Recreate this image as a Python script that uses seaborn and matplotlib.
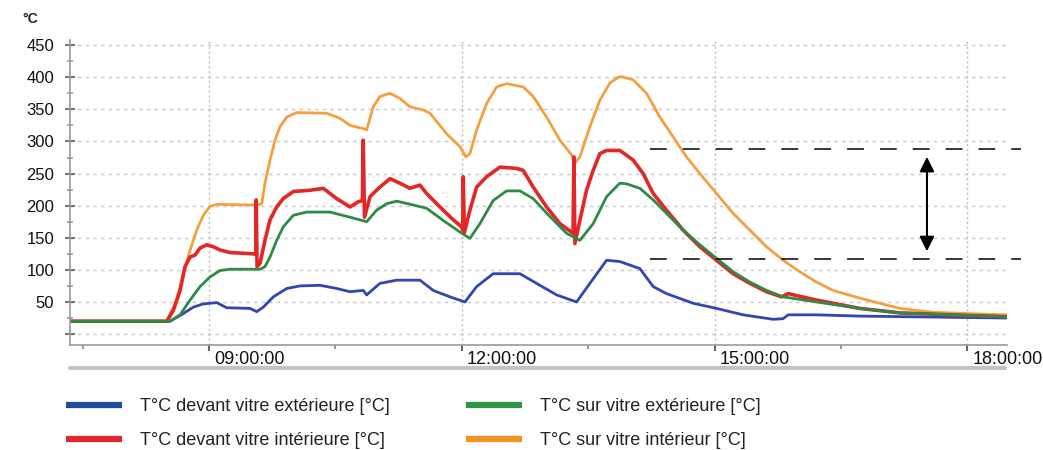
import numpy as np
import pandas as pd
import matplotlib
matplotlib.use("Agg")
import matplotlib.pyplot as plt
import matplotlib.transforms as mtransforms
from matplotlib.lines import Line2D
from matplotlib.ticker import FixedLocator, FuncFormatter, MultipleLocator
import seaborn as sns

# ---------------- data (time in decimal hours, temperature in °C) ----------------
series_names = [
    "T°C devant vitre extérieure [°C]",
    "T°C devant vitre intérieure [°C]",
    "T°C sur vitre extérieure [°C]",
    "T°C sur vitre intérieur [°C]",
]
series_colors = ["#3346b0", "#e32626", "#2e8b47", "#f5a040"]
legend_colors = ["#1f4c9c", "#e3262b", "#2e9447", "#f39322"]

blue_t = [7.35, 8.537, 8.695, 8.814, 8.932, 9.091, 9.210, 9.486, 9.566, 9.644, 9.763,
          9.922, 10.079, 10.317, 10.515, 10.673, 10.830, 10.871, 11.028, 11.227, 11.503,
          11.661, 11.859, 12.037, 12.176, 12.372, 12.689, 12.887, 13.125, 13.362, 13.520,
          13.718, 13.875, 14.113, 14.271, 14.429, 14.745, 15.022, 15.338, 15.695, 15.813,
          15.873, 16.209, 16.722, 18.466]
blue_v = [20, 20, 32, 42, 47, 49, 41, 40, 35, 42, 58,
          71, 75, 76, 71, 66, 68, 61, 79, 84, 84,
          68, 58, 50, 74, 94, 94, 79, 61, 50, 79,
          115, 113, 102, 74, 63, 48, 40, 30, 23, 24,
          30, 30, 28, 25]

red_t = [7.35, 8.498, 8.577, 8.656, 8.715, 8.775, 8.834, 8.893, 8.973, 9.051, 9.130,
         9.249, 9.526, 9.555, 9.560, 9.570, 9.605, 9.664, 9.724, 9.803, 9.881,
         10.000, 10.198, 10.356, 10.515, 10.673, 10.771, 10.820, 10.830, 10.845, 10.910,
         11.028, 11.147, 11.266, 11.384, 11.503, 11.582, 11.740, 11.898, 11.997, 12.010,
         12.017, 12.030, 12.096, 12.176, 12.294, 12.452, 12.650, 12.728, 12.847, 13.006,
         13.164, 13.320, 13.330, 13.342, 13.401, 13.480, 13.559, 13.638, 13.718, 13.875,
         14.033, 14.152, 14.271, 14.429, 14.626, 14.825, 15.022, 15.220, 15.418, 15.616,
         15.794, 15.873, 16.209, 16.722, 17.197, 17.992, 18.466]
red_v = [20, 20, 37, 68, 105, 120, 123, 134, 139, 136, 131,
         127, 125, 124, 209, 105, 110, 146, 178, 198, 211,
         222, 224, 227, 211, 198, 206, 208, 302, 182, 214,
         229, 242, 235, 227, 232, 219, 198, 178, 167, 162,
         245, 158, 193, 229, 245, 260, 258, 255, 229, 198,
         172, 157, 276, 141, 177, 224, 255, 281, 286, 286,
         271, 250, 219, 193, 162, 136, 115, 94, 79, 66,
         58, 63, 53, 40, 33, 29, 27]

green_t = [7.35, 8.537, 8.656, 8.775, 8.893, 9.012, 9.130, 9.249, 9.605, 9.664, 9.724,
           9.803, 9.881, 10.000, 10.159, 10.435, 10.673, 10.871, 10.989, 11.108, 11.227,
           11.424, 11.582, 11.779, 11.977, 12.096, 12.215, 12.372, 12.531, 12.689, 12.847,
           13.045, 13.243, 13.401, 13.559, 13.718, 13.875, 13.955, 14.113, 14.271, 14.429,
           14.626, 14.825, 15.022, 15.220, 15.418, 15.616, 15.813, 16.209, 16.722, 17.197,
           17.992, 18.466]
green_v = [20, 20, 30, 53, 74, 89, 99, 101, 101, 105, 120,
           146, 167, 185, 190, 190, 182, 175, 193, 203, 207,
           201, 196, 177, 159, 149, 172, 208, 223, 223, 211,
           183, 157, 146, 172, 214, 235, 234, 227, 209, 188,
           162, 139, 118, 97, 81, 68, 58, 50, 40, 33,
           29, 27]

orange_t = [7.35, 8.498, 8.617, 8.695, 8.775, 8.854, 8.932, 9.012, 9.091, 9.566, 9.625,
            9.664, 9.724, 9.783, 9.842, 9.922, 10.040, 10.396, 10.554, 10.673, 10.830,
            10.871, 10.949, 11.028, 11.147, 11.266, 11.384, 11.542, 11.622, 11.819, 11.977,
            12.049, 12.096, 12.176, 12.294, 12.413, 12.531, 12.728, 12.847, 13.006, 13.164,
            13.302, 13.342, 13.401, 13.520, 13.638, 13.757, 13.856, 13.895, 14.033, 14.192,
            14.350, 14.508, 14.667, 14.825, 15.022, 15.220, 15.418, 15.616, 15.813, 16.011,
            16.209, 16.406, 16.722, 17.197, 17.588, 17.992, 18.466]
orange_v = [20, 20, 53, 94, 131, 162, 185, 199, 202, 201, 203,
            235, 271, 302, 323, 338, 345, 344, 336, 325, 320,
            318, 354, 370, 375, 367, 354, 349, 344, 312, 292,
            276, 281, 318, 359, 385, 390, 385, 370, 338, 302,
            279, 266, 276, 323, 364, 391, 400, 401, 396, 375,
            338, 307, 276, 250, 219, 188, 162, 136, 115, 97,
            81, 68, 56, 40, 34, 32, 30]

x_ticks = [9, 12, 15, 18]
x_minor = [7.5, 10.5, 13.5, 16.5]
y_ticks = [0, 50, 100, 150, 200, 250, 300, 350, 400, 450]
y_labels = ["", "50", "100", "150", "200", "250", "300", "350", "400", "450"]

band_levels = [288, 117]
band_span = [14.23, 18.64]
arrow_x = 17.52
arrow_ends = [129, 276]

# ---------------- figure ----------------
sns.set_theme(style="white")
plt.rcParams["font.family"] = ["Liberation Sans", "DejaVu Sans"]

fig = plt.figure(figsize=(10.43, 4.50), dpi=100)
ax = fig.add_axes([70 / 1043, 1 - 345 / 450, (1007 - 70) / 1043, (345 - 40) / 450])

all_t = [blue_t, red_t, green_t, orange_t]
all_v = [blue_v, red_v, green_v, orange_v]
widths = [2.0, 2.6, 2.0, 2.0]
order = [0, 3, 1, 2]
for i in order:
    df = pd.DataFrame({"time": all_t[i], "temp": all_v[i]})
    sns.lineplot(data=df, x="time", y="temp", ax=ax, color=series_colors[i],
                 linewidth=widths[i], estimator=None, sort=False, legend=False)

ax.set_xlim(7.35, 18.47)
ax.set_ylim(-17, 458)
ax.set_xlabel("")
ax.set_ylabel("")

# grids
for y in y_ticks:
    ax.axhline(y, color="#c9c9c9", lw=1.0, ls=(0, (2.5, 3)), zorder=0)
for x in x_ticks:
    ax.axvline(x, color="#bdbdbd", lw=1.0, ls=(0, (1.5, 2)), zorder=0)

# spines
for s in ["top", "right"]:
    ax.spines[s].set_visible(False)
for s in ["left", "bottom"]:
    ax.spines[s].set_color("#9a9a9a")
    ax.spines[s].set_linewidth(1.2)

# y ticks
ax.yaxis.set_major_locator(FixedLocator(y_ticks))
ax.set_yticklabels(y_labels)
ax.yaxis.set_minor_locator(MultipleLocator(25))
ax.tick_params(axis="y", which="major", direction="inout", length=7, width=1.5,
               color="#777777", labelsize=12, labelcolor="#111111", pad=8, left=True)
ax.tick_params(axis="y", which="minor", direction="inout", length=5, width=1.2,
               color="#999999", left=True)

# x ticks
ax.xaxis.set_major_locator(FixedLocator(x_ticks))
ax.xaxis.set_minor_locator(FixedLocator(x_minor))
ax.xaxis.set_major_formatter(FuncFormatter(lambda h, p: f"{int(round(h)):02d}:00:00"))
ax.tick_params(axis="x", which="major", direction="out", length=4, width=1.5,
               color="#666666", labelsize=13, labelcolor="#111111", pad=0, bottom=True)
ax.tick_params(axis="x", which="minor", direction="out", length=3, width=1.2,
               color="#888888", bottom=True)
offset = mtransforms.ScaledTranslation(5 / 100, 0, fig.dpi_scale_trans)
for lab in ax.get_xticklabels():
    lab.set_ha("left")
    lab.set_transform(lab.get_transform() + offset)
    lab.set_bbox(dict(facecolor="white", edgecolor="none", pad=1.5))
    lab.set_clip_on(False)

# dashed band + double arrow
for lvl in band_levels:
    ax.plot(band_span, [lvl, lvl], color="black", lw=1.1, dashes=(11, 10.5),
            clip_on=False, zorder=5)
ax.annotate("", xy=(arrow_x, arrow_ends[0]), xytext=(arrow_x, arrow_ends[1]),
            arrowprops=dict(arrowstyle="<|-|>", color="black", lw=1.5,
                            mutation_scale=22, shrinkA=0, shrinkB=0), zorder=6)

# unit label
fig.text(22 / 1043, 1 - 19 / 450, "°C", fontsize=10, fontweight="bold",
         color="#222222", va="center", ha="left")

# grey bar under the axis labels
fig.add_artist(Line2D([70 / 1043, 1005 / 1043], [1 - 368 / 450] * 2,
                      color="#c4c4c4", lw=3, transform=fig.transFigure))

# legend
handles = [Line2D([0], [0], color=legend_colors[i], lw=4.5, solid_capstyle="butt")
           for i in range(4)]
fig.legend(handles, series_names, loc="upper left",
           bbox_to_anchor=(66 / 1043, 1 - 398 / 450), ncol=2, frameon=False,
           fontsize=13, handlelength=3.1, handletextpad=1.0, columnspacing=4.2,
           labelspacing=0.95, borderpad=0, borderaxespad=0,
           labelcolor="#222222")

fig.savefig("out.png", dpi=100)
